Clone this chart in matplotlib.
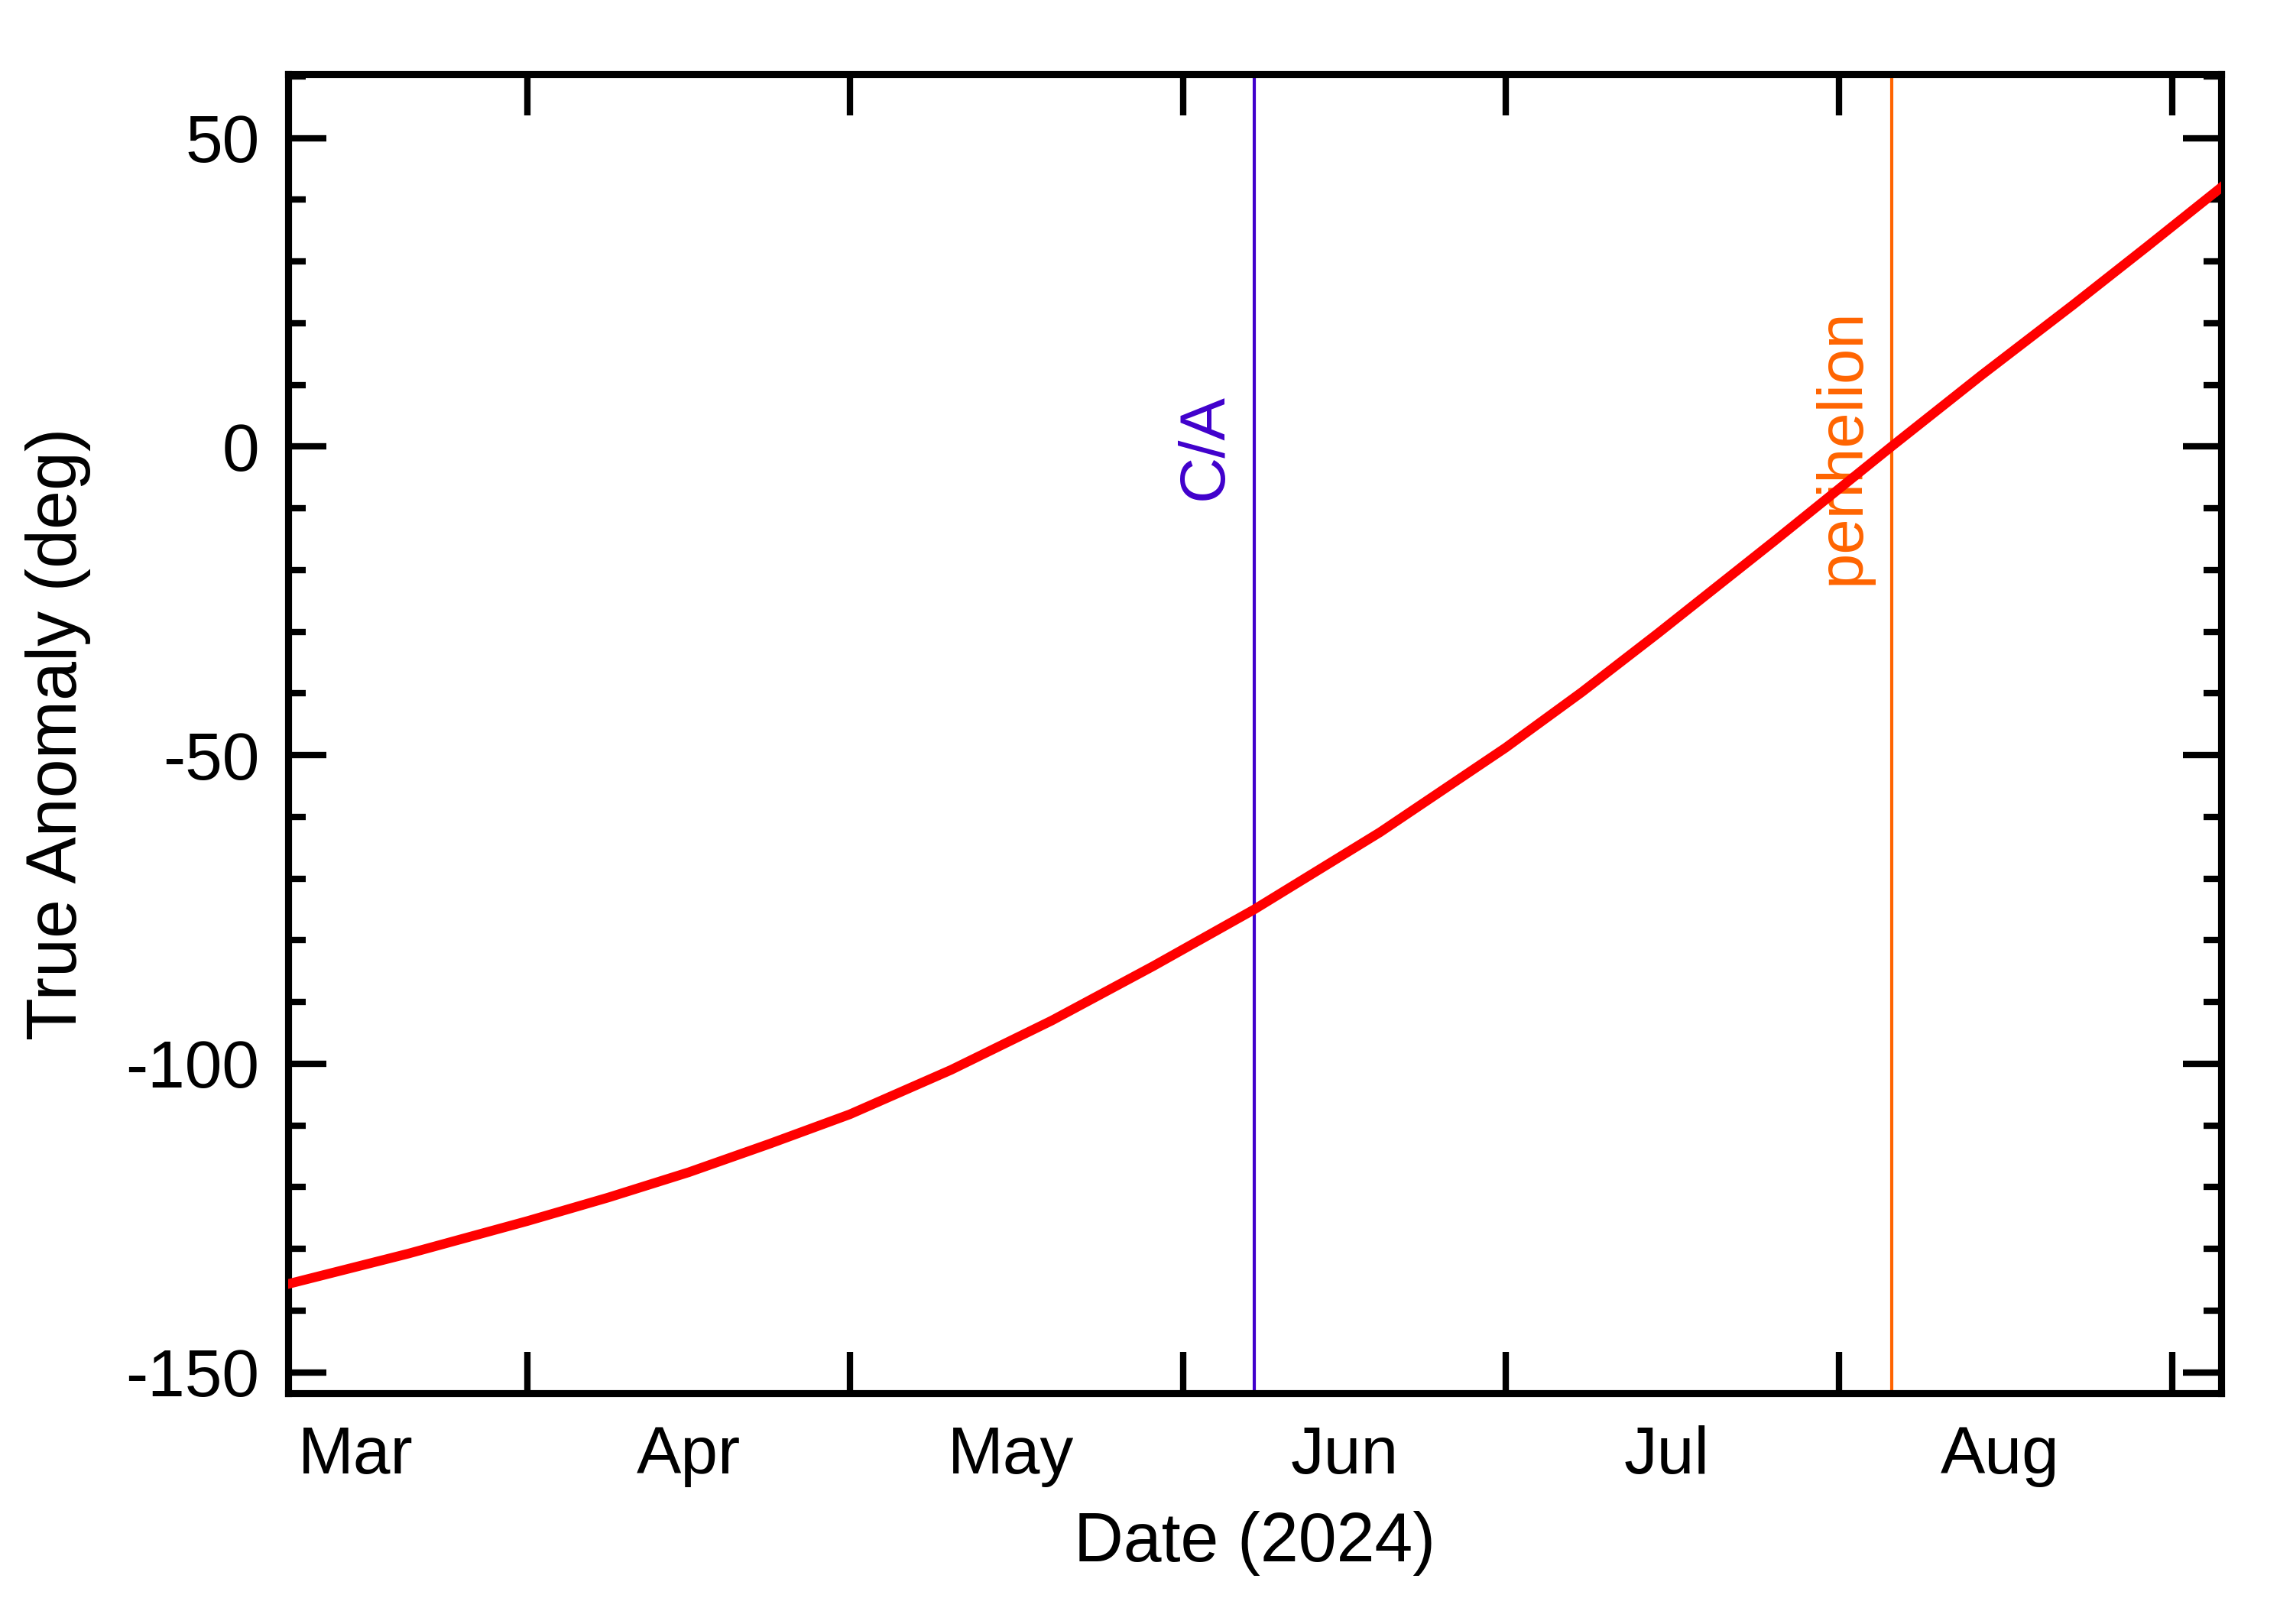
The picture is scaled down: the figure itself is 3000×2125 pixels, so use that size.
import pandas as pd
import matplotlib
matplotlib.use("Agg")
import matplotlib.pyplot as plt
import matplotlib.dates as mdates
from matplotlib.ticker import MultipleLocator, NullFormatter

plt.rcParams["font.family"] = ["Liberation Sans", "DejaVu Sans"]
plt.rcParams["axes.unicode_minus"] = False

# True anomaly
dates = ["2024-03-09 17:46", "2024-03-20 21:00", "2024-04-01 00:00", "2024-04-08 12:00",
         "2024-04-16 00:00", "2024-04-23 12:00", "2024-05-01 00:00", "2024-05-10 10:00",
         "2024-05-19 19:00", "2024-05-29 05:00", "2024-06-07 14:53", "2024-06-19 07:30",
         "2024-07-01 00:00", "2024-07-08 02:00", "2024-07-15 03:22", "2024-07-26 00:00",
         "2024-08-05 21:22", "2024-08-14 07:00", "2024-08-22 17:46", "2024-08-29 16:00",
         "2024-09-05 13:41"]
anomaly = [-135.7, -130.8, -125.5, -121.7,
           -117.6, -113.0, -108.2, -101.0,
           -93.0, -84.2, -75.0, -62.5,
           -48.8, -39.8, -30.3, -15.3,
           0.0, 11.6, 22.9, 32.4,
           42.0]

# event markers
events = ["C/A", "perihelion"]
event_dates = ["2024-06-07 14:53", "2024-08-05 21:22"]
event_colors = ["#4000CC", "#FF6400"]

xlim = ["2024-03-09 17:46", "2024-09-05 13:41"]
ylim = (-153.4, 60.3)

t = pd.to_datetime(dates)

fig = plt.figure(figsize=(10, 2125 / 300), dpi=300)
ax = fig.add_axes([377 / 3000, 302 / 2125, 2529 / 3000, 1725.5 / 2125])

for name, d, c in zip(events, event_dates, event_colors):
    td = pd.to_datetime(d)
    ax.axvline(td, color=c, lw=1.0, zorder=1)
    ax.annotate(name, xy=(td, 0), xytext=(-6, 0), textcoords="offset points",
                rotation=90, ha="right", va="center", color=c, fontsize=20)

ax.plot(t, anomaly, color="#FF0000", lw=3.0, zorder=3)

ax.set_xlim(pd.to_datetime(xlim[0]), pd.to_datetime(xlim[1]))
ax.set_ylim(*ylim)

# month boundaries as ticks, names centred in each month
ax.xaxis.set_major_locator(mdates.MonthLocator(bymonthday=1))
ax.xaxis.set_major_formatter(NullFormatter())
ax.xaxis.set_minor_locator(mdates.MonthLocator(bymonthday=16))
ax.xaxis.set_minor_formatter(mdates.DateFormatter("%b"))
ax.tick_params(axis="x", which="major", direction="in", length=13, width=2,
               top=True, bottom=True)
ax.tick_params(axis="x", which="minor", length=0, labelsize=21, pad=10)

ax.yaxis.set_major_locator(MultipleLocator(50))
ax.yaxis.set_minor_locator(MultipleLocator(10))
ax.tick_params(axis="y", which="major", direction="in", length=12, width=2,
               left=True, right=True, labelsize=21, pad=9)
ax.tick_params(axis="y", which="minor", direction="in", length=5.5, width=2,
               left=True, right=True)

for s in ax.spines.values():
    s.set_linewidth(2.2)

ax.set_xlabel("Date (2024)", fontsize=21.5)
ax.xaxis.set_label_coords(0.5, -0.089)
ax.set_ylabel("True Anomaly (deg)", fontsize=22)
ax.yaxis.set_label_coords(-0.102, 0.5)

fig.savefig("out.png", dpi=300)
